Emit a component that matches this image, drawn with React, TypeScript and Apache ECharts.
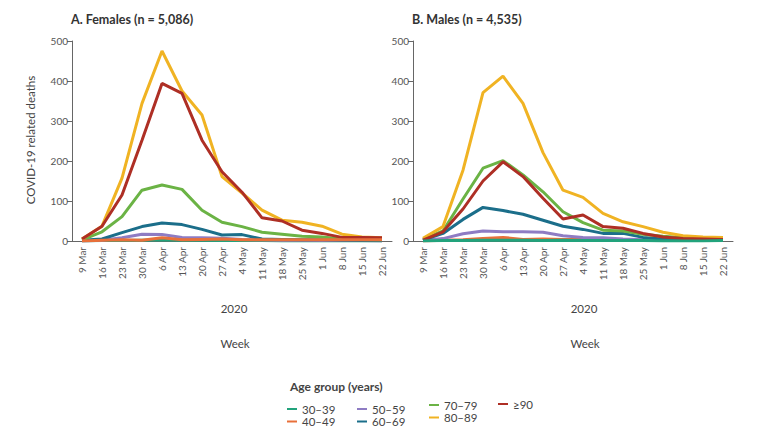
import React, { useEffect, useRef } from "react";
import * as echarts from "echarts";

const weeks = ["9 Mar", "16 Mar", "23 Mar", "30 Mar", "6 Apr", "13 Apr", "20 Apr", "27 Apr", "4 May", "11 May", "18 May", "25 May", "1 Jun", "8 Jun", "15 Jun", "22 Jun"];
const ageGroups = ["30–39", "40–49", "50–59", "60–69", "70–79", "80–89", "≥90"];
const ageColors = ["#22a37c", "#e8703a", "#8e7cc3", "#1b6e8a", "#6bb345", "#f0b323", "#ae2f25"];

const females30 = [0, 1, 1, 2, 3, 2, 2, 1, 1, 1, 0, 0, 0, 0, 0, 0];
const females40 = [0, 2, 3, 2, 8, 3, 4, 5, 3, 3, 3, 3, 3, 3, 3, 3];
const females50 = [0, 2, 8, 17, 16, 9, 8, 7, 4, 3, 2, 2, 1, 1, 1, 0];
const females60 = [2, 5, 21, 36, 45, 41, 29, 15, 16, 5, 4, 3, 3, 2, 1, 1];
const females70 = [3, 23, 61, 127, 140, 129, 77, 47, 36, 22, 17, 12, 10, 5, 4, 3];
const females80 = [5, 37, 157, 344, 475, 375, 315, 161, 120, 77, 52, 47, 37, 17, 10, 8];
const females90 = [5, 37, 115, 252, 394, 369, 252, 173, 122, 58, 50, 27, 19, 9, 9, 8];

const males30 = [0, 1, 1, 2, 2, 2, 1, 2, 1, 1, 1, 1, 0, 0, 0, 1];
const males40 = [0, 2, 3, 6, 9, 4, 5, 4, 4, 3, 4, 2, 2, 1, 1, 1];
const males50 = [1, 6, 18, 25, 23, 23, 22, 13, 9, 8, 5, 3, 3, 2, 2, 1];
const males60 = [2, 19, 54, 84, 76, 67, 52, 37, 29, 19, 19, 9, 5, 3, 2, 2];
const males70 = [4, 25, 105, 182, 201, 165, 123, 73, 46, 27, 25, 17, 12, 8, 6, 5];
const males80 = [7, 36, 177, 371, 412, 344, 221, 127, 109, 69, 48, 36, 22, 13, 10, 9];
const males90 = [2, 23, 80, 150, 198, 161, 107, 55, 65, 36, 32, 19, 10, 6, 5, 4];

const yTicks = [0, 100, 200, 300, 400, 500];

const femaleSeries = [females30, females40, females50, females60, females70, females80, females90];
const maleSeries = [males30, males40, males50, males60, males70, males80, males90];

const FONT = "Lato";
const GREY = "#555";

export default function App() {
  const ref = useRef<HTMLDivElement>(null);
  useEffect(() => {
    if (!ref.current) return;
    const chart = echarts.init(ref.current, undefined, { renderer: "svg" });

    const xAxisBase = (gridIndex: number) => ({
      type: "category" as const,
      gridIndex,
      data: weeks,
      boundaryGap: true,
      axisLine: { lineStyle: { color: "#666", width: 1 } },
      axisTick: { alignWithLabel: true, length: 5, lineStyle: { color: "#666" } },
      axisLabel: { rotate: 90, fontSize: 10, color: GREY, fontFamily: FONT, margin: 6, interval: 0 },
    });
    const yAxisBase = (gridIndex: number) => ({
      type: "value" as const,
      gridIndex,
      min: yTicks[0],
      max: yTicks[yTicks.length - 1],
      interval: 100,
      splitLine: { show: false },
      axisLine: { show: true, lineStyle: { color: "#666", width: 1 } },
      axisTick: { show: true, length: 5, lineStyle: { color: "#666" } },
      axisLabel: { fontSize: 10, color: GREY, fontFamily: FONT, margin: 4 },
    });

    const series: any[] = [];
    ageGroups.forEach((name, i) => {
      series.push({
        name,
        type: "line",
        xAxisIndex: 0,
        yAxisIndex: 0,
        data: femaleSeries[i],
        showSymbol: false,
        symbol: "none",
        lineStyle: { width: 3, color: ageColors[i] },
        itemStyle: { color: ageColors[i] },
        z: i === 1 ? 20 : 2 + i,
      });
    });
    ageGroups.forEach((name, i) => {
      series.push({
        name,
        type: "line",
        xAxisIndex: 1,
        yAxisIndex: 1,
        data: maleSeries[i],
        showSymbol: false,
        symbol: "none",
        lineStyle: { width: 3, color: ageColors[i] },
        itemStyle: { color: ageColors[i] },
        z: i === 0 ? 20 : 2 + i,
      });
    });

    const legendCol = (names: string[], left: number, top: number) => ({
      orient: "vertical" as const,
      left,
      top,
      data: names,
      icon: "rect",
      itemWidth: 10,
      itemHeight: 2,
      itemGap: 0.5,
      selectedMode: false,
      textStyle: { fontSize: 11.5, color: "#444", fontFamily: FONT, lineHeight: 12, padding: [0, 0, 0, 0] },
      padding: 0,
    });

    chart.setOption({
      animation: false,
      textStyle: { fontFamily: FONT },
      grid: [
        { left: 72, top: 41, width: 320, height: 200 },
        { left: 413, top: 41, width: 320, height: 200 },
      ],
      xAxis: [xAxisBase(0), xAxisBase(1)],
      yAxis: [yAxisBase(0), yAxisBase(1)],
      legend: [
        legendCol([ageGroups[0], ageGroups[1]], 287, 403),
        legendCol([ageGroups[2], ageGroups[3]], 357, 403),
        legendCol([ageGroups[4], ageGroups[5]], 429, 399),
        legendCol([ageGroups[6]], 498, 398),
      ],
      graphic: [
        { type: "text", left: 71, top: 13, style: { text: "A. Females (n = 5,086)", fontSize: 12.5, fontWeight: "bold", fill: "#333", fontFamily: FONT } },
        { type: "text", left: 412, top: 13, style: { text: "B. Males (n = 4,535)", fontSize: 12.5, fontWeight: "bold", fill: "#333", fontFamily: FONT } },
        { type: "text", x: 30, y: 140, rotation: Math.PI / 2, style: { text: "COVID-19 related deaths", fontSize: 11.5, fill: "#444", fontFamily: FONT, align: "center", verticalAlign: "middle" } },
        { type: "text", x: 234, y: 308, style: { text: "2020", fontSize: 11.5, fill: "#444", fontFamily: FONT, align: "center", verticalAlign: "middle" } },
        { type: "text", x: 584, y: 308, style: { text: "2020", fontSize: 11.5, fill: "#444", fontFamily: FONT, align: "center", verticalAlign: "middle" } },
        { type: "text", x: 235, y: 343, style: { text: "Week", fontSize: 11.5, fill: "#444", fontFamily: FONT, align: "center", verticalAlign: "middle" } },
        { type: "text", x: 585, y: 343, style: { text: "Week", fontSize: 11.5, fill: "#444", fontFamily: FONT, align: "center", verticalAlign: "middle" } },
        { type: "text", x: 290, y: 386, style: { text: "Age group (years)", fontSize: 12, fontWeight: "bold", fill: "#444", fontFamily: FONT, align: "left", verticalAlign: "middle" } },
      ],
      series,
    });

    return () => chart.dispose();
  }, []);

  return <div ref={ref} style={{ position: "absolute", left: 0, top: 0, width: 761, height: 439 }} />;
}
